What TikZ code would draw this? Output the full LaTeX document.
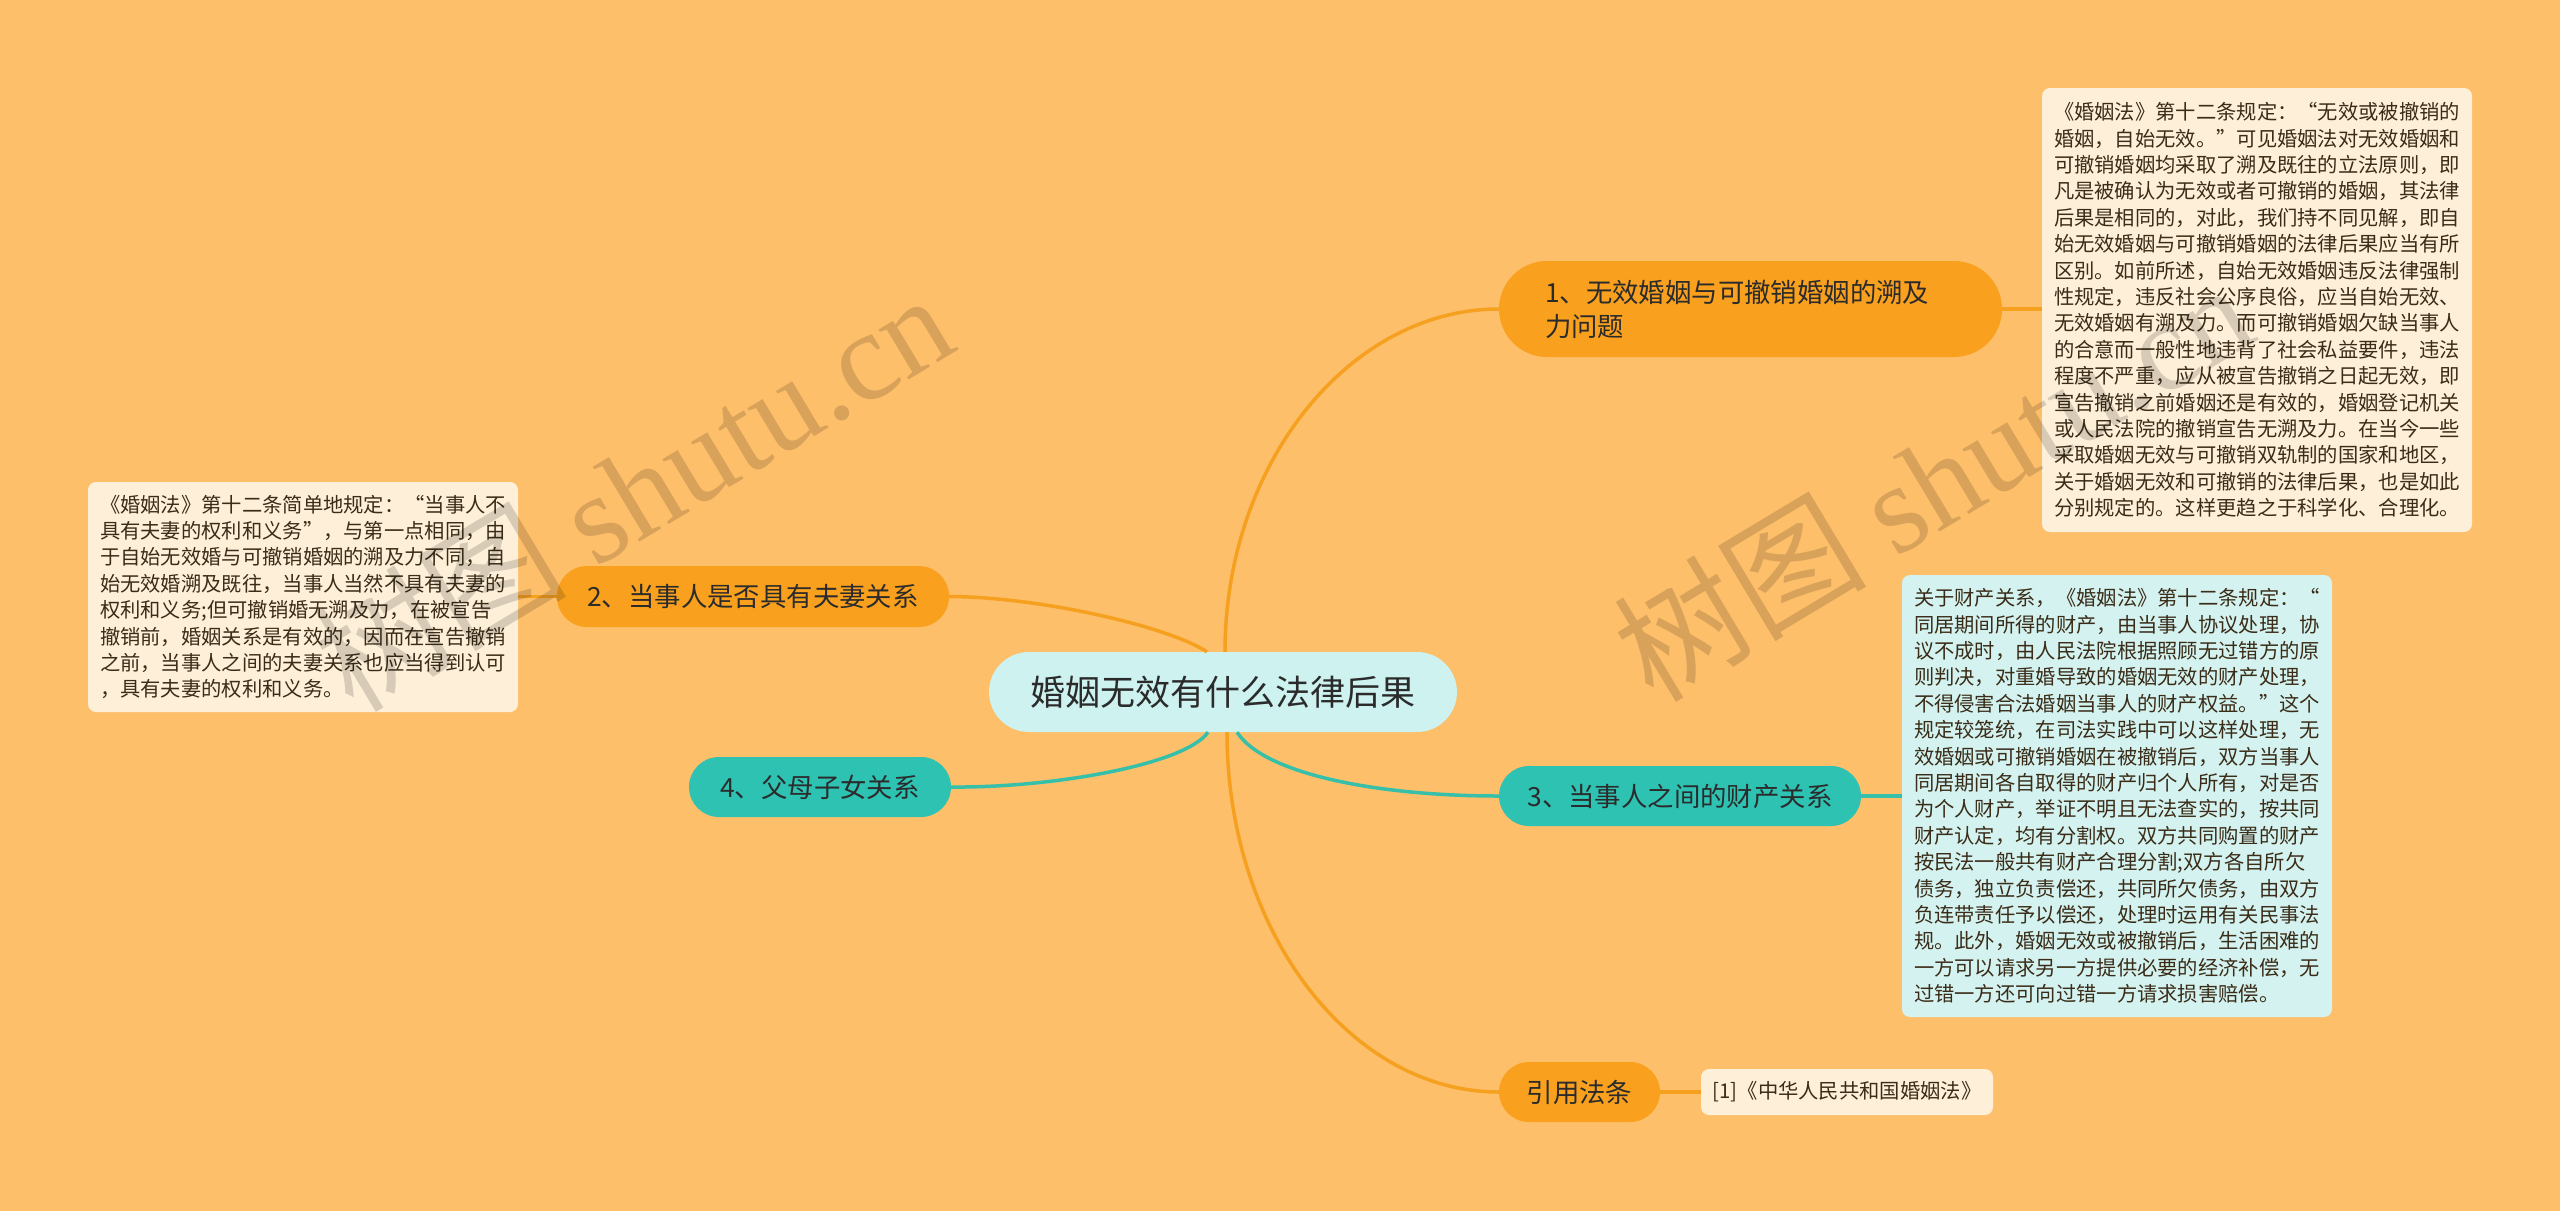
\documentclass[tikz,border=0pt]{standalone}
\usepackage{fontspec}
\setmainfont{Noto Sans CJK SC}
\newfontfamily\wmlatin{Liberation Serif}
\definecolor{bg}{HTML}{FEBF6A}
\definecolor{orangeB}{HTML}{F9A11E}
\definecolor{tealB}{HTML}{2EC2B3}
\definecolor{orangeL}{HTML}{F6A020}
\definecolor{tealL}{HTML}{36BFA9}
\definecolor{centerF}{HTML}{CDF2EF}
\definecolor{cream}{HTML}{FDEFD8}
\definecolor{cyanL}{HTML}{D4F3F0}
\definecolor{txt}{HTML}{2B2B2B}
\definecolor{leaftxt}{HTML}{3A2C18}
\tikzset{
  branch/.style={inner sep=0pt, minimum height=60pt, rounded corners=30pt, text=txt, font=\fontsize{26.4}{34}\selectfont},
  leaf/.style={inner sep=0pt, rounded corners=8pt, align=left, text=leaftxt, font=\fontsize{20.3}{26.4}\selectfont},
  conO/.style={draw=orangeL, line width=3.5pt},
  conT/.style={draw=tealL, line width=3.5pt},
  wm/.style={rotate=31, anchor=base west, text=black, text opacity=0.15, font=\fontsize{127}{127}\selectfont}
}
\begin{document}
\begin{tikzpicture}[x=1pt,y=-1pt]
\fill[bg] (0,0) rectangle (2560,1211);
\useasboundingbox (0,0) rectangle (2560,1211);

% nodes
\node[fill=centerF, inner sep=0pt, rounded corners=40pt, minimum width=468pt, minimum height=80pt, text=txt, font=\fontsize{35}{40}\selectfont] (c) at (1223,692) {婚姻无效有什么法律后果};

\node[branch, fill=orangeB, minimum width=503pt, minimum height=96pt, rounded corners=48pt, text width=411pt, align=left] (b1) at (1750.5,309) {1、无效婚姻与可撤销婚姻的溯及\\力问题};
\node[branch, fill=orangeB, minimum width=392pt, minimum height=61pt] (b2) at (753,596.5) {2、当事人是否具有夫妻关系};
\node[branch, fill=tealB, minimum width=362pt] (b3) at (1680,796) {3、当事人之间的财产关系};
\node[branch, fill=tealB, minimum width=262pt] (b4) at (820,787) {4、父母子女关系};
\node[branch, fill=orangeB, minimum width=161pt] (b5) at (1579.5,1092) {引用法条};

\node[leaf, fill=cream, minimum width=430pt, minimum height=444pt] (l1) at (2257,310) {%
《婚姻法》第十二条规定：“无效或被撤销的\\
婚姻，自始无效。”可见婚姻法对无效婚姻和\\
可撤销婚姻均采取了溯及既往的立法原则，即\\
凡是被确认为无效或者可撤销的婚姻，其法律\\
后果是相同的，对此，我们持不同见解，即自\\
始无效婚姻与可撤销婚姻的法律后果应当有所\\
区别。如前所述，自始无效婚姻违反法律强制\\
性规定，违反社会公序良俗，应当自始无效、\\
无效婚姻有溯及力。而可撤销婚姻欠缺当事人\\
的合意而一般性地违背了社会私益要件，违法\\
程度不严重，应从被宣告撤销之日起无效，即\\
宣告撤销之前婚姻还是有效的，婚姻登记机关\\
或人民法院的撤销宣告无溯及力。在当今一些\\
采取婚姻无效与可撤销双轨制的国家和地区，\\
关于婚姻无效和可撤销的法律后果，也是如此\\
分别规定的。这样更趋之于科学化、合理化。};

\node[leaf, fill=cream, minimum width=430pt, minimum height=230pt] (l2) at (303,597) {%
《婚姻法》第十二条简单地规定：“当事人不\\
具有夫妻的权利和义务”，与第一点相同，由\\
于自始无效婚与可撤销婚姻的溯及力不同，自\\
始无效婚溯及既往，当事人当然不具有夫妻的\\
权利和义务;但可撤销婚无溯及力，在被宣告\\
撤销前，婚姻关系是有效的，因而在宣告撤销\\
之前，当事人之间的夫妻关系也应当得到认可\\
，具有夫妻的权利和义务。};

\node[leaf, fill=cyanL, minimum width=430pt, minimum height=442pt] (l3) at (2117,796) {%
关于财产关系，《婚姻法》第十二条规定：“\\
同居期间所得的财产，由当事人协议处理，协\\
议不成时，由人民法院根据照顾无过错方的原\\
则判决，对重婚导致的婚姻无效的财产处理，\\
不得侵害合法婚姻当事人的财产权益。”这个\\
规定较笼统，在司法实践中可以这样处理，无\\
效婚姻或可撤销婚姻在被撤销后，双方当事人\\
同居期间各自取得的财产归个人所有，对是否\\
为个人财产，举证不明且无法查实的，按共同\\
财产认定，均有分割权。双方共同购置的财产\\
按民法一般共有财产合理分割;双方各自所欠\\
债务，独立负责偿还，共同所欠债务，由双方\\
负连带责任予以偿还，处理时运用有关民事法\\
规。此外，婚姻无效或被撤销后，生活困难的\\
一方可以请求另一方提供必要的经济补偿，无\\
过错一方还可向过错一方请求损害赔偿。};

\node[leaf, fill=cream, minimum width=292pt, minimum height=46pt] (l5) at (1847,1092) {[1]《中华人民共和国婚姻法》};

% connectors
\path[conO] ([xshift=2pt]c.north) .. controls (1225,463) and (1350,309) .. (b1.west);
\path[conO] ([xshift=-16pt]c.north) .. controls (1167,626) and (1040,597) .. (b2.east);
\path[conT] ([xshift=14pt]c.south) .. controls (1265,775) and (1380,796) .. (b3.west);
\path[conT] ([xshift=-15pt]c.south) .. controls (1185,765) and (1050,788) .. (b4.east);
\path[conO] ([xshift=4pt]c.south) .. controls (1227,931) and (1350,1092) .. (b5.west);
\path[conO] (b1.east) -- (l1.west |- b1.east);
\path[conO] (b2.west) -- (l2.east |- b2.west);
\path[conT] (b3.east) -- (l3.west |- b3.east);
\path[conO] (b5.east) -- (l5.west);

% watermarks
\node[wm] (wm1) at (350,716) {树图 {\wmlatin shutu.cn}};
\node[wm] (wm2) at (1650,706) {树图 {\wmlatin shutu.cn}};
\end{tikzpicture}
\end{document}
